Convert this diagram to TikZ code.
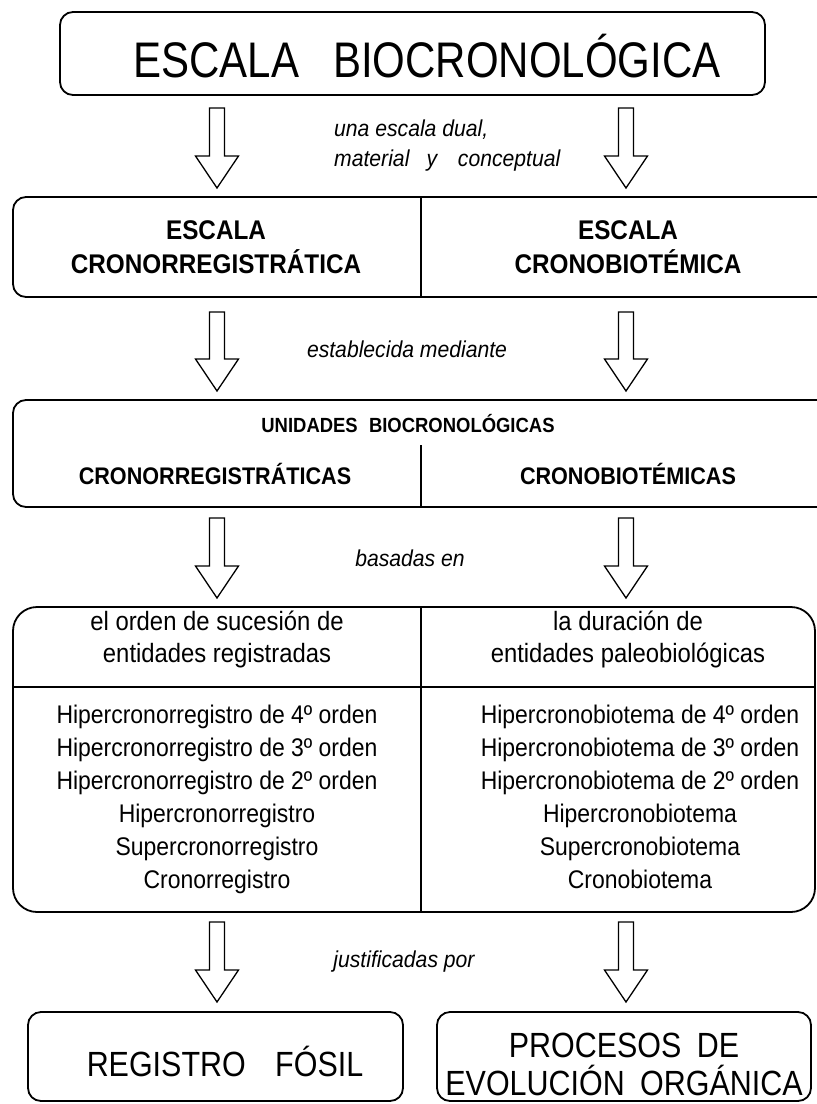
\documentclass[tikz,border=0pt]{standalone}
\usepackage{fontspec}
\setmainfont{Liberation Sans}
\newfontfamily\nf[FakeStretch=0.9]{Liberation Sans}
\newfontfamily\itf[FakeStretch=0.92]{Liberation Sans}
\newfontfamily\titlefont[FakeStretch=0.84]{Liberation Sans}
\newfontfamily\botfont[FakeStretch=0.87]{Liberation Sans}
\usetikzlibrary{calc}
\newcommand\hollowdown[4]{%
  \coordinate (#1s) at (#2,#3);
  \coordinate (#1e) at (#2,#4);
  \draw[harrow] ($(#1s)+(-7.5,0)$) -- ($(#1s)+(7.5,0)$) -- ($(#1e)+(7.5,-32)$)
     -- ($(#1e)+(21.5,-32)$) -- (#1e) -- ($(#1e)+(-21.5,-32)$) -- ($(#1e)+(-7.5,-32)$) -- cycle;}
\begin{document}
\begin{tikzpicture}[x=1pt,y=-1pt,
  box/.style={draw, line width=1.8pt, inner sep=0pt},
  divline/.style={line width=1.6pt},
  harrow/.style={draw, line width=1.3pt, line join=miter},
  txt/.style={inner sep=0pt, anchor=base},
  tbig/.style={txt, font=\titlefont\fontsize{50}{54}\selectfont},
  tbold/.style={txt, font=\nf\bfseries\fontsize{27}{30}\selectfont},
  tboldu/.style={txt, font=\nf\bfseries\fontsize{20.5}{24}\selectfont},
  tbolds/.style={txt, font=\nf\bfseries\fontsize{24}{28}\selectfont},
  thead/.style={txt, font=\nf\fontsize{26.5}{30}\selectfont},
  tlist/.style={txt, font=\nf\fontsize{25.5}{29}\selectfont},
  tital/.style={txt, font=\itf\itshape\fontsize{23}{27}\selectfont},
  tbot/.style={txt, font=\botfont\fontsize{35}{38}\selectfont},
]
\useasboundingbox (0,0) rectangle (817,1104);
\begin{scope}
\clip (0,0) rectangle (817,1104);
% boxes
\node[box, rounded corners=13pt, minimum width=705pt, minimum height=83pt] (top) at (412.5,53.5) {};
\node[box, rounded corners=13pt, minimum width=827pt, minimum height=100pt] (b2) at (426.5,247) {};
\node[box, rounded corners=13pt, minimum width=827pt, minimum height=107pt] (b3) at (426.5,453.5) {};
\node[box, rounded corners=24pt, minimum width=802pt, minimum height=305pt] (b4) at (414,759.5) {};
\node[box, rounded corners=13pt, minimum width=375pt, minimum height=89pt] (bl) at (215.5,1056.5) {};
\node[box, rounded corners=13pt, minimum width=374pt, minimum height=89pt] (br) at (624,1056.5) {};
% dividers
\draw[divline] (421,197) -- (421,297);
\draw[divline] (421,445) -- (421,507);
\draw[divline] (421,607) -- (421,912);
\draw[divline] (b4.west |- 0,687) -- (b4.east |- 0,687);
\end{scope}
% arrows
\hollowdown{a1l}{217}{108}{188}
\hollowdown{a1r}{626}{108}{188}
\hollowdown{a2l}{217}{312}{391}
\hollowdown{a2r}{626}{312}{391}
\hollowdown{a3l}{217}{518}{598}
\hollowdown{a3r}{626}{518}{598}
\hollowdown{a4l}{217}{922}{1002}
\hollowdown{a4r}{626}{922}{1002}
% texts
\node[tbig] (title) at (427,77) {ESCALA\hspace{0.45em} BIOCRONOLÓGICA};
\node[tital, anchor=base west] (l1a) at (334,136) {una escala dual,};
\node[tital, anchor=base west] (l1b) at (334,166) {material\hspace{0.75em}y\hspace{0.9em}conceptual};
\node[tbold] (e1) at (216,239.5) {ESCALA};
\node[tbold] (e2) at (216,273.5) {CRONORREGISTRÁTICA};
\node[tbold] (e3) at (628,239.5) {ESCALA};
\node[tbold] (e4) at (628,273.5) {CRONOBIOTÉMICA};
\node[tital] (l2) at (407,357) {establecida mediante};
\node[tboldu] (u1) at (408,432.5) {UNIDADES\hspace{0.3em} BIOCRONOLÓGICAS};
\node[tbolds] (u2) at (215,484.5) {CRONORREGISTRÁTICAS};
\node[tbolds] (u3) at (628,484.5) {CRONOBIOTÉMICAS};
\node[tital] (l3) at (410,566) {basadas en};
\node[thead] (h1) at (217,630) {el orden de sucesión de};
\node[thead] (h2) at (217,662) {entidades registradas};
\node[thead] (h3) at (628,630) {la duración de};
\node[thead] (h4) at (628,662) {entidades paleobiológicas};
\node[tlist] (r1) at (217,723) {Hipercronorregistro de 4º orden};
\node[tlist] (r2) at (217,756) {Hipercronorregistro de 3º orden};
\node[tlist] (r3) at (217,789) {Hipercronorregistro de 2º orden};
\node[tlist] (r4) at (217,822) {Hipercronorregistro};
\node[tlist] (r5) at (217,855) {Supercronorregistro};
\node[tlist] (r6) at (217,888) {Cronorregistro};
\node[tlist] (s1) at (640,723) {Hipercronobiotema de 4º orden};
\node[tlist] (s2) at (640,756) {Hipercronobiotema de 3º orden};
\node[tlist] (s3) at (640,789) {Hipercronobiotema de 2º orden};
\node[tlist] (s4) at (640,822) {Hipercronobiotema};
\node[tlist] (s5) at (640,855) {Supercronobiotema};
\node[tlist] (s6) at (640,888) {Cronobiotema};
\node[tital] (l4) at (404,967) {justificadas por};
\node[tbot] (f1) at (225,1076.5) {REGISTRO\hspace{0.6em} FÓSIL};
\node[tbot] (f2) at (624,1057.5) {PROCESOS\hspace{0.2em} DE};
\node[tbot] (f3) at (624,1095.5) {EVOLUCIÓN\hspace{0.2em} ORGÁNICA};
\end{tikzpicture}
\end{document}
